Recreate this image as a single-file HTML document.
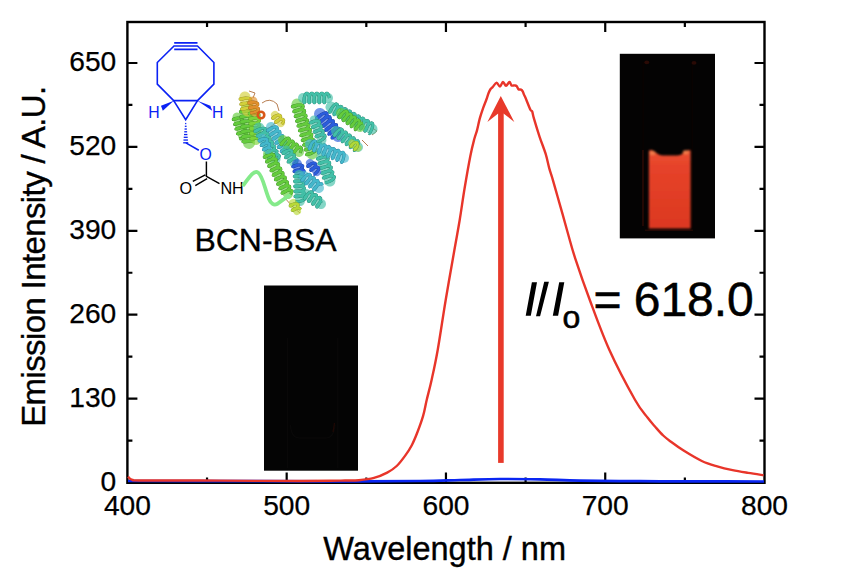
<!DOCTYPE html>
<html><head><meta charset="utf-8"><style>
html,body{margin:0;padding:0;background:#fff;width:842px;height:582px;overflow:hidden}
svg{position:absolute;left:0;top:0}
text{font-family:"Liberation Sans",sans-serif}
</style></head><body>
<svg width="842" height="582" viewBox="0 0 842 582">
<rect width="842" height="582" fill="#fff"/>
<rect x="264.0" y="285.5" width="94.0" height="185.2" fill="#040404"/>
<path d="M287.4 338 V468 M337.7 338 V468 M290.5 425 Q291 438 300 438 H326 Q334 438 335 425" stroke="#0a0909" stroke-width="1.1" fill="none"/><path d="M333 432 Q334 427 334.5 423" stroke="#1e0804" stroke-width="1.3" fill="none"/>
<rect x="619.8" y="53.8" width="95.2" height="184.6" fill="#040303"/>
<path d="M643.2 62 V228 M692.3 62 V228" stroke="#0a0302" stroke-width="1.3" fill="none"/>
<path d="M643 150 V226" stroke="#2a0a05" stroke-width="1.6" fill="none"/>
<ellipse cx="646.8" cy="62.4" rx="2.5" ry="1.8" fill="#2a0a05"/>
<ellipse cx="694" cy="62.9" rx="2.5" ry="1.8" fill="#2a0a05"/>
<path d="M645 230.3 H693" stroke="#1e0804" stroke-width="1.4"/>
<defs><linearGradient id="lq" x1="0" y1="0" x2="0" y2="1"><stop offset="0" stop-color="#ec5232"/><stop offset="0.2" stop-color="#e6432a"/><stop offset="1" stop-color="#dc3820"/></linearGradient></defs>
<filter id="bl" x="-0.2" y="-0.2" width="1.4" height="1.4"><feGaussianBlur stdDeviation="0.8"/></filter>
<g filter="url(#bl)">
<path d="M648.9 228.4 V151 Q650 149.3 652.5 150.3 C656 152 658 155.5 663 155.5 H677 C682 155.5 684 152 687.5 150.5 Q690.4 149.5 690.6 151 V228.4 Z" fill="url(#lq)"/>
<ellipse cx="652.5" cy="153" rx="3" ry="2" fill="#f07a48"/><ellipse cx="685.8" cy="152.3" rx="3" ry="2" fill="#f07a48"/>
</g>
<rect x="127.40" y="22.00" width="637.10" height="460.80" fill="none" stroke="#000" stroke-width="2.4"/>
<path d="M207.04 482.50V477.50M207.04 22.00V27.00M286.68 482.50V472.50M286.68 22.00V32.00M366.31 482.50V477.50M366.31 22.00V27.00M445.95 482.50V472.50M445.95 22.00V32.00M525.59 482.50V477.50M525.59 22.00V27.00M605.23 482.50V472.50M605.23 22.00V32.00M684.86 482.50V477.50M684.86 22.00V27.00M127.40 440.55H132.40M764.50 440.55H759.50M127.40 398.60H137.40M764.50 398.60H754.50M127.40 356.65H132.40M764.50 356.65H759.50M127.40 314.70H137.40M764.50 314.70H754.50M127.40 272.75H132.40M764.50 272.75H759.50M127.40 230.79H137.40M764.50 230.79H754.50M127.40 188.84H132.40M764.50 188.84H759.50M127.40 146.89H137.40M764.50 146.89H754.50M127.40 104.94H132.40M764.50 104.94H759.50M127.40 62.99H137.40M764.50 62.99H754.50" stroke="#000" stroke-width="2.2" fill="none"/>
<path d="M128.00 481.00 C148.33 481.02 214.67 481.05 250.00 481.10 C285.33 481.15 311.67 481.32 340.00 481.30 C368.33 481.28 400.00 481.22 420.00 481.00 C440.00 480.78 446.67 480.33 460.00 480.00 C473.33 479.67 486.67 479.10 500.00 479.00 C513.33 478.90 526.67 479.13 540.00 479.40 C553.33 479.67 563.33 480.30 580.00 480.60 C596.67 480.90 620.00 481.07 640.00 481.20 C660.00 481.33 679.33 481.35 700.00 481.40 C720.67 481.45 753.33 481.48 764.00 481.50" fill="none" stroke="#0a26f2" stroke-width="2.7"/>
<path d="M128.00 476.60 C128.33 476.97 129.17 478.23 130.00 478.80 C130.83 479.37 131.33 479.72 133.00 480.00 C134.67 480.28 128.83 480.42 140.00 480.50 C151.17 480.58 180.00 480.43 200.00 480.50 C220.00 480.57 243.33 480.82 260.00 480.90 C276.67 480.98 288.33 481.02 300.00 481.00 C311.67 480.98 322.50 480.88 330.00 480.80 C337.50 480.72 340.18 480.60 345.00 480.50 C349.82 480.40 354.07 480.63 358.90 480.20 C363.73 479.77 369.28 479.17 374.00 477.90 C378.72 476.63 383.42 474.58 387.20 472.60 C390.98 470.62 393.70 468.83 396.70 466.00 C399.70 463.17 402.68 459.07 405.20 455.60 C407.72 452.13 409.75 449.13 411.80 445.20 C413.85 441.27 415.62 436.88 417.50 432.00 C419.38 427.12 421.57 421.23 423.10 415.90 C424.63 410.57 425.28 405.98 426.70 400.00 C428.12 394.02 429.77 388.33 431.60 380.00 C433.43 371.67 435.35 363.33 437.70 350.00 C440.05 336.67 442.92 316.67 445.70 300.00 C448.48 283.33 452.07 263.33 454.40 250.00 C456.73 236.67 458.00 230.28 459.70 220.00 C461.40 209.72 462.83 198.93 464.60 188.30 C466.37 177.67 468.68 164.42 470.30 156.20 C471.92 147.98 473.18 143.30 474.30 139.00 C475.42 134.70 476.08 133.83 477.00 130.40 C477.92 126.97 478.78 122.12 479.80 118.40 C480.82 114.68 482.00 111.25 483.10 108.10 C484.20 104.95 485.50 101.98 486.40 99.50 C487.30 97.02 487.85 94.87 488.50 93.20 C489.15 91.53 489.62 90.52 490.30 89.50 C490.98 88.48 491.55 88.23 492.60 87.10 C493.65 85.97 495.38 82.78 496.60 82.70 C497.82 82.62 498.83 86.72 499.90 86.60 C500.97 86.48 501.98 82.13 503.00 82.00 C504.02 81.87 504.92 85.80 506.00 85.80 C507.08 85.80 508.58 82.07 509.50 82.00 C510.42 81.93 510.65 84.83 511.50 85.40 C512.35 85.97 513.73 85.28 514.60 85.40 C515.47 85.52 516.07 85.47 516.70 86.10 C517.33 86.73 517.68 88.62 518.40 89.20 C519.12 89.78 520.28 89.25 521.00 89.60 C521.72 89.95 522.22 90.50 522.70 91.30 C523.18 92.10 523.32 93.03 523.90 94.40 C524.48 95.77 525.12 96.93 526.20 99.50 C527.28 102.07 529.40 107.80 530.40 109.80 C531.40 111.80 531.62 110.07 532.20 111.50 C532.78 112.93 532.67 114.18 533.90 118.40 C535.13 122.62 537.65 130.92 539.60 136.80 C541.55 142.68 544.00 148.48 545.60 153.70 C547.20 158.92 547.98 163.70 549.20 168.10 C550.42 172.50 551.48 175.28 552.90 180.10 C554.32 184.92 556.10 191.38 557.70 197.00 C559.30 202.62 560.70 207.38 562.50 213.80 C564.30 220.22 566.38 228.08 568.50 235.50 C570.62 242.92 571.65 247.55 575.20 258.30 C578.75 269.05 584.10 284.72 589.80 300.00 C595.50 315.28 601.85 333.33 609.40 350.00 C616.95 366.67 628.72 388.70 635.10 400.00 C641.48 411.30 644.32 413.30 647.70 417.80 C651.08 422.30 652.82 424.05 655.40 427.00 C657.98 429.95 660.62 433.05 663.20 435.50 C665.78 437.95 667.50 439.18 670.90 441.70 C674.30 444.22 678.45 447.38 683.60 450.60 C688.75 453.82 696.20 458.37 701.80 461.00 C707.40 463.63 712.07 464.87 717.20 466.40 C722.33 467.93 727.45 469.12 732.60 470.20 C737.75 471.28 742.95 472.07 748.10 472.90 C753.25 473.73 760.93 474.82 763.50 475.20" fill="none" stroke="#e8352a" stroke-width="2.4" stroke-linejoin="round"/>
<rect x="498.1" y="113" width="5.6" height="349.9" fill="#e8392a"/>
<path d="M500.8 96.0 L514.3 121.9 L503.5 113.6 L498.2 113.6 L487.4 121.9 Z" fill="#e8392a"/>
<g fill="none" stroke="#0b22f4" stroke-width="1.6" stroke-linejoin="miter">
<path d="M174 46 L197.5 46 L213.9 62.5 L213.9 84.1 L197.5 100.6 L173.7 100.6 L157.3 84.1 L157.3 62.5 Z"/>
<path d="M174.2 42.9 H197.5 M174.2 49.4 H197.5"/>
<path d="M173.7 100.6 L185.7 119.7 L197.5 100.6"/>
<path d="M185.9 142.9 L198.8 150.2"/>
</g>
<g fill="#0b22f4">
<path d="M173.8 100.8 L161.0 105.8 L162.8 110.8 Z"/>
<path d="M197.4 100.8 L210.4 105.8 L212.2 110.8 Z"/>
<rect x="185.10" y="122.90" width="1.20" height="1.3"/><rect x="184.82" y="125.65" width="1.75" height="1.3"/><rect x="184.55" y="128.40" width="2.30" height="1.3"/><rect x="184.27" y="131.15" width="2.85" height="1.3"/><rect x="184.00" y="133.90" width="3.40" height="1.3"/><rect x="183.72" y="136.65" width="3.95" height="1.3"/><rect x="183.45" y="139.40" width="4.50" height="1.3"/><rect x="183.17" y="142.15" width="5.05" height="1.3"/></g>
<g font-size="15.8" fill="#0b22f4">
<text x="148.3" y="117.8">H</text>
<text x="211.9" y="117.8">H</text>
<text x="199.6" y="159.7">O</text>
</g>
<g fill="none" stroke="#000" stroke-width="1.45">
<path d="M206.4 161.6 V176.4 L219.5 183.7 M205.3 174.8 L192.8 181.3 M207.1 178.6 L195.3 185.7"/>
</g>
<g font-size="16.2" fill="#000">
<text x="179.6" y="193.7">O</text>
<text x="220.4" y="193.5">NH</text>
</g>

<g><path d="M249 91 L255 93 L253 98 M262 103 Q270 97 277 104 L279 111 M259 109 Q256 125 260 136 M276 122 Q268 130 266 128 M293 207 L300 213 M372 128 L377 131 L372 135 M362 140 L368 146 M284 197 L292 206" stroke="#b07040" stroke-width="0.9" fill="none"/><path d="M237.0 117.0 L243.0 137.0" stroke="#64cc3c" stroke-opacity="0.65" stroke-width="9.0" stroke-linecap="round"/><path d="M237.4 118.3 L234.9 119.3 L233.3 119.6 L233.3 119.2 L234.9 118.5 L237.6 118.0 L240.3 118.1 L242.1 118.8 L242.3 120.2 L240.8 121.9 L238.4 123.4 L235.9 124.2 L234.6 124.4 L234.9 123.9 L236.8 123.2 L239.5 122.8 L242.2 122.9 L243.7 123.9 L243.6 125.3 L241.9 127.0 L239.3 128.4 L237.0 129.1 L235.9 129.1 L236.5 128.6 L238.7 127.9 L241.5 127.5 L244.0 127.8 L245.3 128.9 L244.8 130.4 L242.9 132.1 L240.3 133.3 L238.2 133.9 L237.4 133.8 L238.3 133.2 L240.6 132.6 L243.5 132.3 L245.8 132.8 L246.7 133.9 L246.0 135.5 L243.8 137.1 L241.3 138.3 L239.3 138.8" stroke="#3a8428" stroke-width="3.0" fill="none" stroke-linejoin="round"/><path d="M237.4 118.3 L234.9 119.3 L233.3 119.6 L233.3 119.2 L234.9 118.5 L237.6 118.0 L240.3 118.1 L242.1 118.8 L242.3 120.2 L240.8 121.9 L238.4 123.4 L235.9 124.2 L234.6 124.4 L234.9 123.9 L236.8 123.2 L239.5 122.8 L242.2 122.9 L243.7 123.9 L243.6 125.3 L241.9 127.0 L239.3 128.4 L237.0 129.1 L235.9 129.1 L236.5 128.6 L238.7 127.9 L241.5 127.5 L244.0 127.8 L245.3 128.9 L244.8 130.4 L242.9 132.1 L240.3 133.3 L238.2 133.9 L237.4 133.8 L238.3 133.2 L240.6 132.6 L243.5 132.3 L245.8 132.8 L246.7 133.9 L246.0 135.5 L243.8 137.1 L241.3 138.3 L239.3 138.8" stroke="#64cc3c" stroke-width="2.4" fill="none" stroke-linejoin="round"/><path d="M246.0 110.0 L249.0 143.0" stroke="#64cc3c" stroke-opacity="0.65" stroke-width="12.0" stroke-linecap="round"/><path d="M246.1 111.4 L242.6 111.9 L240.4 111.9 L240.4 111.6 L242.6 111.2 L246.2 111.1 L249.8 111.6 L252.0 112.6 L252.0 113.9 L249.9 115.3 L246.4 116.4 L243.0 116.9 L240.8 116.9 L240.9 116.5 L243.2 116.1 L246.8 116.1 L250.3 116.6 L252.5 117.6 L252.5 119.0 L250.2 120.4 L246.7 121.4 L243.3 121.9 L241.3 121.9 L241.4 121.5 L243.8 121.1 L247.4 121.1 L250.9 121.6 L253.0 122.6 L252.9 124.0 L250.6 125.4 L247.0 126.4 L243.6 126.9 L241.7 126.8 L241.9 126.5 L244.4 126.1 L248.0 126.1 L251.5 126.6 L253.5 127.7 L253.3 129.1 L250.9 130.4 L247.3 131.4 L244.0 131.9 L242.1 131.8 L242.5 131.4 L245.0 131.1 L248.6 131.1 L252.1 131.6 L254.0 132.7 L253.6 134.1 L251.2 135.5 L247.6 136.5 L244.3 136.9 L242.5 136.8 L243.0 136.4 L245.5 136.0 L249.2 136.0 L252.6 136.6 L254.5 137.7 L254.0 139.1 L251.5 140.5 L247.9 141.5 L244.6 141.9 L242.9 141.8 L243.5 141.3 L246.1 141.0 L249.8 141.0 L253.2 141.6" stroke="#3a8428" stroke-width="3.0" fill="none" stroke-linejoin="round"/><path d="M246.1 111.4 L242.6 111.9 L240.4 111.9 L240.4 111.6 L242.6 111.2 L246.2 111.1 L249.8 111.6 L252.0 112.6 L252.0 113.9 L249.9 115.3 L246.4 116.4 L243.0 116.9 L240.8 116.9 L240.9 116.5 L243.2 116.1 L246.8 116.1 L250.3 116.6 L252.5 117.6 L252.5 119.0 L250.2 120.4 L246.7 121.4 L243.3 121.9 L241.3 121.9 L241.4 121.5 L243.8 121.1 L247.4 121.1 L250.9 121.6 L253.0 122.6 L252.9 124.0 L250.6 125.4 L247.0 126.4 L243.6 126.9 L241.7 126.8 L241.9 126.5 L244.4 126.1 L248.0 126.1 L251.5 126.6 L253.5 127.7 L253.3 129.1 L250.9 130.4 L247.3 131.4 L244.0 131.9 L242.1 131.8 L242.5 131.4 L245.0 131.1 L248.6 131.1 L252.1 131.6 L254.0 132.7 L253.6 134.1 L251.2 135.5 L247.6 136.5 L244.3 136.9 L242.5 136.8 L243.0 136.4 L245.5 136.0 L249.2 136.0 L252.6 136.6 L254.5 137.7 L254.0 139.1 L251.5 140.5 L247.9 141.5 L244.6 141.9 L242.9 141.8 L243.5 141.3 L246.1 141.0 L249.8 141.0 L253.2 141.6" stroke="#64cc3c" stroke-width="2.4" fill="none" stroke-linejoin="round"/><path d="M245.0 97.0 L247.5 111.0" stroke="#d2d03a" stroke-opacity="0.65" stroke-width="11.0" stroke-linecap="round"/><path d="M245.2 98.4 L242.1 99.2 L240.1 99.3 L240.1 98.9 L242.1 98.4 L245.5 98.1 L248.8 98.3 L250.8 99.2 L250.8 100.6 L248.8 102.2 L245.6 103.5 L242.5 104.2 L240.8 104.2 L241.2 103.8 L243.5 103.2 L246.9 103.0 L250.1 103.3 L251.8 104.3 L251.5 105.8 L249.2 107.3 L246.0 108.5 L243.0 109.1 L241.6 109.1 L242.3 108.6 L244.9 108.1 L248.3 107.9 L251.4 108.4 L252.8 109.5 L252.1 111.0" stroke="#90861c" stroke-width="3.0" fill="none" stroke-linejoin="round"/><path d="M245.2 98.4 L242.1 99.2 L240.1 99.3 L240.1 98.9 L242.1 98.4 L245.5 98.1 L248.8 98.3 L250.8 99.2 L250.8 100.6 L248.8 102.2 L245.6 103.5 L242.5 104.2 L240.8 104.2 L241.2 103.8 L243.5 103.2 L246.9 103.0 L250.1 103.3 L251.8 104.3 L251.5 105.8 L249.2 107.3 L246.0 108.5 L243.0 109.1 L241.6 109.1 L242.3 108.6 L244.9 108.1 L248.3 107.9 L251.4 108.4 L252.8 109.5 L252.1 111.0" stroke="#d2d03a" stroke-width="2.4" fill="none" stroke-linejoin="round"/><path d="M254.0 112.0 L256.0 140.0" stroke="#7cd438" stroke-opacity="0.65" stroke-width="10.0" stroke-linecap="round"/><path d="M254.1 113.4 L251.2 113.8 L249.4 113.8 L249.3 113.4 L251.2 113.1 L254.1 113.1 L257.1 113.7 L259.0 114.7 L259.0 116.1 L257.3 117.4 L254.4 118.4 L251.5 118.8 L249.7 118.7 L249.7 118.4 L251.6 118.1 L254.6 118.1 L257.5 118.7 L259.4 119.8 L259.4 121.1 L257.6 122.5 L254.7 123.4 L251.8 123.8 L250.0 123.7 L250.1 123.4 L252.0 123.0 L255.0 123.1 L257.9 123.7 L259.7 124.8 L259.7 126.2 L257.9 127.5 L254.9 128.4 L252.1 128.8 L250.4 128.7 L250.5 128.3 L252.4 128.0 L255.4 128.1 L258.4 128.7 L260.1 129.8 L260.0 131.2 L258.2 132.5 L255.2 133.4 L252.4 133.8 L250.7 133.7 L250.9 133.3 L252.8 133.0 L255.9 133.1 L258.8 133.7 L260.5 134.8 L260.4 136.2 L258.4 137.5 L255.5 138.4 L252.6 138.8 L251.0 138.7 L251.3 138.3 L253.3 138.0 L256.3 138.1 L259.2 138.7" stroke="#4e8e28" stroke-width="3.0" fill="none" stroke-linejoin="round"/><path d="M254.1 113.4 L251.2 113.8 L249.4 113.8 L249.3 113.4 L251.2 113.1 L254.1 113.1 L257.1 113.7 L259.0 114.7 L259.0 116.1 L257.3 117.4 L254.4 118.4 L251.5 118.8 L249.7 118.7 L249.7 118.4 L251.6 118.1 L254.6 118.1 L257.5 118.7 L259.4 119.8 L259.4 121.1 L257.6 122.5 L254.7 123.4 L251.8 123.8 L250.0 123.7 L250.1 123.4 L252.0 123.0 L255.0 123.1 L257.9 123.7 L259.7 124.8 L259.7 126.2 L257.9 127.5 L254.9 128.4 L252.1 128.8 L250.4 128.7 L250.5 128.3 L252.4 128.0 L255.4 128.1 L258.4 128.7 L260.1 129.8 L260.0 131.2 L258.2 132.5 L255.2 133.4 L252.4 133.8 L250.7 133.7 L250.9 133.3 L252.8 133.0 L255.9 133.1 L258.8 133.7 L260.5 134.8 L260.4 136.2 L258.4 137.5 L255.5 138.4 L252.6 138.8 L251.0 138.7 L251.3 138.3 L253.3 138.0 L256.3 138.1 L259.2 138.7" stroke="#7cd438" stroke-width="2.4" fill="none" stroke-linejoin="round"/><path d="M253.0 101.0 L254.5 112.0" stroke="#e0902c" stroke-opacity="0.65" stroke-width="9.0" stroke-linecap="round"/><path d="M253.2 102.4 L250.6 103.0 L248.9 103.0 L248.9 102.6 L250.6 102.2 L253.3 102.1 L256.0 102.5 L257.7 103.5 L257.8 104.9 L256.2 106.3 L253.6 107.4 L251.0 108.0 L249.5 107.9 L249.7 107.5 L251.5 107.1 L254.2 107.1 L256.9 107.6 L258.5 108.6 L258.4 110.0 L256.7 111.4 L254.0 112.4 L251.5 112.9 L250.2 112.9" stroke="#9a5c16" stroke-width="3.0" fill="none" stroke-linejoin="round"/><path d="M253.2 102.4 L250.6 103.0 L248.9 103.0 L248.9 102.6 L250.6 102.2 L253.3 102.1 L256.0 102.5 L257.7 103.5 L257.8 104.9 L256.2 106.3 L253.6 107.4 L251.0 108.0 L249.5 107.9 L249.7 107.5 L251.5 107.1 L254.2 107.1 L256.9 107.6 L258.5 108.6 L258.4 110.0 L256.7 111.4 L254.0 112.4 L251.5 112.9 L250.2 112.9" stroke="#e0902c" stroke-width="2.4" fill="none" stroke-linejoin="round"/><path d="M275.0 115.0 L281.0 123.0" stroke="#d2d03a" stroke-opacity="0.65" stroke-width="8.0" stroke-linecap="round"/><path d="M275.8 116.1 L274.1 117.7 L272.8 118.4 L272.6 118.1 L273.6 117.1 L275.7 115.9 L278.0 115.1 L279.9 115.2 L280.7 116.3 L280.3 118.1 L278.8 120.1 L277.1 121.7 L275.8 122.4 L275.6 122.1 L276.6 121.1 L278.7 119.9 L281.0 119.1 L282.9 119.2 L283.7 120.3 L283.3 122.1 L281.8 124.1" stroke="#90861c" stroke-width="3.0" fill="none" stroke-linejoin="round"/><path d="M275.8 116.1 L274.1 117.7 L272.8 118.4 L272.6 118.1 L273.6 117.1 L275.7 115.9 L278.0 115.1 L279.9 115.2 L280.7 116.3 L280.3 118.1 L278.8 120.1 L277.1 121.7 L275.8 122.4 L275.6 122.1 L276.6 121.1 L278.7 119.9 L281.0 119.1 L282.9 119.2 L283.7 120.3 L283.3 122.1 L281.8 124.1" stroke="#d2d03a" stroke-width="2.4" fill="none" stroke-linejoin="round"/><path d="M259.0 128.0 L275.0 159.0" stroke="#42c0a8" stroke-opacity="0.65" stroke-width="11.0" stroke-linecap="round"/><path d="M259.6 129.2 L256.8 130.9 L255.0 131.7 L254.9 131.3 L256.6 130.2 L259.7 128.9 L262.9 128.2 L265.2 128.4 L265.6 129.7 L264.2 131.7 L261.6 133.9 L258.9 135.5 L257.2 136.1 L257.3 135.7 L259.2 134.5 L262.4 133.2 L265.5 132.6 L267.6 132.9 L267.9 134.3 L266.3 136.4 L263.6 138.6 L260.9 140.1 L259.4 140.6 L259.7 140.0 L261.8 138.8 L265.0 137.6 L268.1 137.0 L270.0 137.5 L270.1 139.0 L268.3 141.1 L265.6 143.2 L263.0 144.6 L261.6 145.0 L262.1 144.3 L264.4 143.1 L267.7 141.9 L270.7 141.4 L272.4 142.0 L272.2 143.6 L270.3 145.8 L267.5 147.9 L265.0 149.2 L263.9 149.4 L264.6 148.7 L267.1 147.4 L270.3 146.3 L273.3 145.9 L274.8 146.6 L274.4 148.3 L272.3 150.5 L269.5 152.5 L267.1 153.7 L266.1 153.8 L267.1 153.0 L269.7 151.7 L273.0 150.6 L275.8 150.4 L277.1 151.2 L276.5 153.0 L274.3 155.2 L271.5 157.1 L269.2 158.2 L268.4 158.2 L269.6 157.3 L272.3 156.0 L275.6 155.0 L278.3 154.8 L279.5 155.8 L278.7 157.7 L276.3 159.9" stroke="#28806e" stroke-width="3.0" fill="none" stroke-linejoin="round"/><path d="M259.6 129.2 L256.8 130.9 L255.0 131.7 L254.9 131.3 L256.6 130.2 L259.7 128.9 L262.9 128.2 L265.2 128.4 L265.6 129.7 L264.2 131.7 L261.6 133.9 L258.9 135.5 L257.2 136.1 L257.3 135.7 L259.2 134.5 L262.4 133.2 L265.5 132.6 L267.6 132.9 L267.9 134.3 L266.3 136.4 L263.6 138.6 L260.9 140.1 L259.4 140.6 L259.7 140.0 L261.8 138.8 L265.0 137.6 L268.1 137.0 L270.0 137.5 L270.1 139.0 L268.3 141.1 L265.6 143.2 L263.0 144.6 L261.6 145.0 L262.1 144.3 L264.4 143.1 L267.7 141.9 L270.7 141.4 L272.4 142.0 L272.2 143.6 L270.3 145.8 L267.5 147.9 L265.0 149.2 L263.9 149.4 L264.6 148.7 L267.1 147.4 L270.3 146.3 L273.3 145.9 L274.8 146.6 L274.4 148.3 L272.3 150.5 L269.5 152.5 L267.1 153.7 L266.1 153.8 L267.1 153.0 L269.7 151.7 L273.0 150.6 L275.8 150.4 L277.1 151.2 L276.5 153.0 L274.3 155.2 L271.5 157.1 L269.2 158.2 L268.4 158.2 L269.6 157.3 L272.3 156.0 L275.6 155.0 L278.3 154.8 L279.5 155.8 L278.7 157.7 L276.3 159.9" stroke="#42c0a8" stroke-width="2.4" fill="none" stroke-linejoin="round"/><path d="M271.0 127.0 L286.0 150.0" stroke="#44b8cc" stroke-opacity="0.65" stroke-width="10.0" stroke-linecap="round"/><path d="M271.8 128.2 L269.4 130.0 L267.8 130.8 L267.6 130.4 L269.2 129.2 L271.8 127.8 L274.8 126.9 L276.8 127.0 L277.4 128.3 L276.3 130.5 L274.1 132.7 L271.8 134.4 L270.4 135.0 L270.5 134.5 L272.3 133.2 L275.1 131.8 L277.9 131.0 L279.8 131.4 L280.0 132.8 L278.7 135.0 L276.4 137.2 L274.2 138.8 L273.0 139.2 L273.4 138.5 L275.4 137.1 L278.3 135.8 L281.0 135.2 L282.7 135.7 L282.6 137.4 L281.1 139.6 L278.7 141.8 L276.6 143.1 L275.7 143.3 L276.4 142.5 L278.6 141.1 L281.5 139.8 L284.1 139.4 L285.5 140.1 L285.2 141.9 L283.5 144.2 L281.1 146.2 L279.1 147.4 L278.4 147.4 L279.4 146.4 L281.8 145.0 L284.8 143.9 L287.2 143.6 L288.3 144.6 L287.7 146.5 L285.8 148.8 L283.4 150.7 L281.6 151.7 L281.2 151.5 L282.5 150.4 L285.0 149.0" stroke="#267a94" stroke-width="3.0" fill="none" stroke-linejoin="round"/><path d="M271.8 128.2 L269.4 130.0 L267.8 130.8 L267.6 130.4 L269.2 129.2 L271.8 127.8 L274.8 126.9 L276.8 127.0 L277.4 128.3 L276.3 130.5 L274.1 132.7 L271.8 134.4 L270.4 135.0 L270.5 134.5 L272.3 133.2 L275.1 131.8 L277.9 131.0 L279.8 131.4 L280.0 132.8 L278.7 135.0 L276.4 137.2 L274.2 138.8 L273.0 139.2 L273.4 138.5 L275.4 137.1 L278.3 135.8 L281.0 135.2 L282.7 135.7 L282.6 137.4 L281.1 139.6 L278.7 141.8 L276.6 143.1 L275.7 143.3 L276.4 142.5 L278.6 141.1 L281.5 139.8 L284.1 139.4 L285.5 140.1 L285.2 141.9 L283.5 144.2 L281.1 146.2 L279.1 147.4 L278.4 147.4 L279.4 146.4 L281.8 145.0 L284.8 143.9 L287.2 143.6 L288.3 144.6 L287.7 146.5 L285.8 148.8 L283.4 150.7 L281.6 151.7 L281.2 151.5 L282.5 150.4 L285.0 149.0" stroke="#44b8cc" stroke-width="2.4" fill="none" stroke-linejoin="round"/><path d="M283.0 140.0 L299.0 152.0" stroke="#64cc3c" stroke-opacity="0.65" stroke-width="10.0" stroke-linecap="round"/><path d="M284.1 140.8 L282.5 143.3 L281.3 144.7 L281.0 144.4 L281.9 142.9 L283.9 140.7 L286.3 138.8 L288.3 138.0 L289.4 138.9 L289.3 141.0 L288.1 143.8 L286.5 146.3 L285.3 147.7 L285.0 147.4 L285.9 145.9 L287.9 143.7 L290.3 141.8 L292.3 141.0 L293.4 141.9 L293.3 144.0 L292.1 146.8 L290.5 149.3 L289.3 150.7 L289.0 150.4 L289.9 148.9 L291.9 146.7 L294.3 144.8 L296.3 144.0 L297.4 144.9 L297.3 147.0 L296.1 149.8 L294.5 152.3 L293.3 153.7 L293.0 153.4 L293.9 151.9 L295.9 149.7 L298.3 147.8 L300.3 147.0 L301.4 147.9 L301.3 150.0 L300.1 152.8" stroke="#3a8428" stroke-width="3.0" fill="none" stroke-linejoin="round"/><path d="M284.1 140.8 L282.5 143.3 L281.3 144.7 L281.0 144.4 L281.9 142.9 L283.9 140.7 L286.3 138.8 L288.3 138.0 L289.4 138.9 L289.3 141.0 L288.1 143.8 L286.5 146.3 L285.3 147.7 L285.0 147.4 L285.9 145.9 L287.9 143.7 L290.3 141.8 L292.3 141.0 L293.4 141.9 L293.3 144.0 L292.1 146.8 L290.5 149.3 L289.3 150.7 L289.0 150.4 L289.9 148.9 L291.9 146.7 L294.3 144.8 L296.3 144.0 L297.4 144.9 L297.3 147.0 L296.1 149.8 L294.5 152.3 L293.3 153.7 L293.0 153.4 L293.9 151.9 L295.9 149.7 L298.3 147.8 L300.3 147.0 L301.4 147.9 L301.3 150.0 L300.1 152.8" stroke="#64cc3c" stroke-width="2.4" fill="none" stroke-linejoin="round"/><path d="M268.0 154.0 L288.0 194.0" stroke="#64cc3c" stroke-opacity="0.65" stroke-width="10.0" stroke-linecap="round"/><path d="M268.6 155.3 L266.1 156.8 L264.4 157.4 L264.2 157.1 L265.8 156.1 L268.6 155.0 L271.5 154.3 L273.7 154.6 L274.2 155.9 L273.1 157.8 L270.7 159.8 L268.2 161.3 L266.6 161.9 L266.5 161.5 L268.2 160.5 L271.0 159.4 L273.9 158.8 L276.0 159.2 L276.4 160.5 L275.2 162.4 L272.8 164.4 L270.3 165.8 L268.8 166.4 L268.8 165.9 L270.5 164.9 L273.3 163.8 L276.3 163.3 L278.3 163.7 L278.7 165.0 L277.3 167.0 L274.9 168.9 L272.5 170.4 L271.0 170.8 L271.1 170.4 L272.9 169.3 L275.7 168.2 L278.6 167.7 L280.6 168.2 L280.9 169.6 L279.5 171.5 L277.1 173.5 L274.6 174.9 L273.2 175.3 L273.4 174.8 L275.2 173.7 L278.1 172.7 L281.0 172.2 L282.9 172.7 L283.1 174.1 L281.6 176.1 L279.2 178.1 L276.7 179.4 L275.4 179.8 L275.7 179.2 L277.6 178.1 L280.5 177.1 L283.4 176.7 L285.2 177.2 L285.3 178.7 L283.7 180.7 L281.3 182.6 L278.9 183.9 L277.6 184.2 L278.0 183.7 L280.0 182.6 L282.9 181.5 L285.7 181.2 L287.4 181.8 L287.5 183.3 L285.9 185.3 L283.4 187.2 L281.0 188.4 L279.8 188.7 L280.3 188.1 L282.3 187.0 L285.3 186.0 L288.1 185.6 L289.7 186.3 L289.7 187.8 L288.0 189.8 L285.5 191.7 L283.1 192.9 L282.0 193.2 L282.6 192.5 L284.7 191.4 L287.7 190.4 L290.4 190.1 L292.0 190.8 L291.8 192.4 L290.1 194.4" stroke="#3a8428" stroke-width="3.0" fill="none" stroke-linejoin="round"/><path d="M268.6 155.3 L266.1 156.8 L264.4 157.4 L264.2 157.1 L265.8 156.1 L268.6 155.0 L271.5 154.3 L273.7 154.6 L274.2 155.9 L273.1 157.8 L270.7 159.8 L268.2 161.3 L266.6 161.9 L266.5 161.5 L268.2 160.5 L271.0 159.4 L273.9 158.8 L276.0 159.2 L276.4 160.5 L275.2 162.4 L272.8 164.4 L270.3 165.8 L268.8 166.4 L268.8 165.9 L270.5 164.9 L273.3 163.8 L276.3 163.3 L278.3 163.7 L278.7 165.0 L277.3 167.0 L274.9 168.9 L272.5 170.4 L271.0 170.8 L271.1 170.4 L272.9 169.3 L275.7 168.2 L278.6 167.7 L280.6 168.2 L280.9 169.6 L279.5 171.5 L277.1 173.5 L274.6 174.9 L273.2 175.3 L273.4 174.8 L275.2 173.7 L278.1 172.7 L281.0 172.2 L282.9 172.7 L283.1 174.1 L281.6 176.1 L279.2 178.1 L276.7 179.4 L275.4 179.8 L275.7 179.2 L277.6 178.1 L280.5 177.1 L283.4 176.7 L285.2 177.2 L285.3 178.7 L283.7 180.7 L281.3 182.6 L278.9 183.9 L277.6 184.2 L278.0 183.7 L280.0 182.6 L282.9 181.5 L285.7 181.2 L287.4 181.8 L287.5 183.3 L285.9 185.3 L283.4 187.2 L281.0 188.4 L279.8 188.7 L280.3 188.1 L282.3 187.0 L285.3 186.0 L288.1 185.6 L289.7 186.3 L289.7 187.8 L288.0 189.8 L285.5 191.7 L283.1 192.9 L282.0 193.2 L282.6 192.5 L284.7 191.4 L287.7 190.4 L290.4 190.1 L292.0 190.8 L291.8 192.4 L290.1 194.4" stroke="#64cc3c" stroke-width="2.4" fill="none" stroke-linejoin="round"/><path d="M286.0 150.0 L294.0 163.0" stroke="#42c0a8" stroke-opacity="0.65" stroke-width="9.0" stroke-linecap="round"/><path d="M286.7 151.2 L284.6 152.8 L283.1 153.5 L282.9 153.1 L284.3 152.0 L286.8 150.8 L289.5 150.2 L291.4 150.5 L291.9 151.8 L291.0 153.7 L289.0 155.8 L286.9 157.2 L285.6 157.7 L285.7 157.2 L287.3 156.1 L289.9 154.9 L292.5 154.4 L294.2 154.9 L294.5 156.3 L293.3 158.4 L291.2 160.3 L289.2 161.7 L288.1 162.0 L288.5 161.3 L290.4 160.1 L293.0 159.0 L295.5 158.7 L297.0 159.3 L297.0 160.9 L295.6 163.0 L293.4 164.9" stroke="#28806e" stroke-width="3.0" fill="none" stroke-linejoin="round"/><path d="M286.7 151.2 L284.6 152.8 L283.1 153.5 L282.9 153.1 L284.3 152.0 L286.8 150.8 L289.5 150.2 L291.4 150.5 L291.9 151.8 L291.0 153.7 L289.0 155.8 L286.9 157.2 L285.6 157.7 L285.7 157.2 L287.3 156.1 L289.9 154.9 L292.5 154.4 L294.2 154.9 L294.5 156.3 L293.3 158.4 L291.2 160.3 L289.2 161.7 L288.1 162.0 L288.5 161.3 L290.4 160.1 L293.0 159.0 L295.5 158.7 L297.0 159.3 L297.0 160.9 L295.6 163.0 L293.4 164.9" stroke="#42c0a8" stroke-width="2.4" fill="none" stroke-linejoin="round"/><path d="M262.0 138.0 L268.0 150.0" stroke="#44b8cc" stroke-opacity="0.65" stroke-width="8.0" stroke-linecap="round"/><path d="M262.6 139.3 L260.6 140.5 L259.2 141.0 L259.1 140.6 L260.5 139.7 L262.9 138.9 L265.4 138.6 L267.0 139.3 L267.3 140.7 L266.2 142.5 L264.2 144.2 L262.3 145.2 L261.2 145.4 L261.7 144.8 L263.4 143.9 L265.9 143.2 L268.2 143.2 L269.5 144.1 L269.3 145.7 L267.9 147.5 L265.8 149.1 L264.1 149.9 L263.4 149.8 L264.3 149.0 L266.4 148.1 L268.9 147.6 L271.0 147.9" stroke="#267a94" stroke-width="3.0" fill="none" stroke-linejoin="round"/><path d="M262.6 139.3 L260.6 140.5 L259.2 141.0 L259.1 140.6 L260.5 139.7 L262.9 138.9 L265.4 138.6 L267.0 139.3 L267.3 140.7 L266.2 142.5 L264.2 144.2 L262.3 145.2 L261.2 145.4 L261.7 144.8 L263.4 143.9 L265.9 143.2 L268.2 143.2 L269.5 144.1 L269.3 145.7 L267.9 147.5 L265.8 149.1 L264.1 149.9 L263.4 149.8 L264.3 149.0 L266.4 148.1 L268.9 147.6 L271.0 147.9" stroke="#44b8cc" stroke-width="2.4" fill="none" stroke-linejoin="round"/><path d="M297.0 164.0 L300.0 174.0" stroke="#2a5cdc" stroke-opacity="0.65" stroke-width="10.0" stroke-linecap="round"/><path d="M297.4 165.3 L294.5 166.4 L292.8 166.7 L292.9 166.3 L294.9 165.5 L298.0 165.0 L301.0 165.0 L302.8 165.9 L302.5 167.4 L300.5 169.2 L297.6 170.7 L295.0 171.5 L294.0 171.4 L295.0 170.8 L297.6 170.0 L300.8 169.7 L303.4 170.1 L304.3 171.3 L303.3 173.0 L300.7 174.7 L297.8 175.9" stroke="#1a3a94" stroke-width="3.0" fill="none" stroke-linejoin="round"/><path d="M297.4 165.3 L294.5 166.4 L292.8 166.7 L292.9 166.3 L294.9 165.5 L298.0 165.0 L301.0 165.0 L302.8 165.9 L302.5 167.4 L300.5 169.2 L297.6 170.7 L295.0 171.5 L294.0 171.4 L295.0 170.8 L297.6 170.0 L300.8 169.7 L303.4 170.1 L304.3 171.3 L303.3 173.0 L300.7 174.7 L297.8 175.9" stroke="#2a5cdc" stroke-width="2.4" fill="none" stroke-linejoin="round"/><path d="M299.0 175.0 L300.0 201.0" stroke="#42c0a8" stroke-opacity="0.65" stroke-width="10.0" stroke-linecap="round"/><path d="M299.1 176.4 L296.1 176.7 L294.3 176.6 L294.3 176.2 L296.1 176.0 L299.1 176.1 L302.0 176.8 L303.9 177.9 L303.9 179.3 L302.1 180.5 L299.2 181.4 L296.3 181.7 L294.5 181.6 L294.5 181.2 L296.3 181.0 L299.3 181.1 L302.2 181.8 L304.1 182.9 L304.1 184.3 L302.3 185.5 L299.4 186.4 L296.5 186.7 L294.7 186.6 L294.7 186.2 L296.5 186.0 L299.5 186.1 L302.4 186.8 L304.3 187.9 L304.3 189.3 L302.5 190.5 L299.6 191.4 L296.6 191.7 L294.9 191.6 L294.9 191.2 L296.7 191.0 L299.7 191.1 L302.7 191.8 L304.5 192.9 L304.5 194.3 L302.7 195.5 L299.7 196.4 L296.8 196.7 L295.0 196.6 L295.1 196.2 L296.9 196.0 L299.9 196.1 L302.9 196.8 L304.7 197.9 L304.7 199.3 L302.8 200.5 L299.9 201.4 L297.0 201.7 L295.2 201.6" stroke="#28806e" stroke-width="3.0" fill="none" stroke-linejoin="round"/><path d="M299.1 176.4 L296.1 176.7 L294.3 176.6 L294.3 176.2 L296.1 176.0 L299.1 176.1 L302.0 176.8 L303.9 177.9 L303.9 179.3 L302.1 180.5 L299.2 181.4 L296.3 181.7 L294.5 181.6 L294.5 181.2 L296.3 181.0 L299.3 181.1 L302.2 181.8 L304.1 182.9 L304.1 184.3 L302.3 185.5 L299.4 186.4 L296.5 186.7 L294.7 186.6 L294.7 186.2 L296.5 186.0 L299.5 186.1 L302.4 186.8 L304.3 187.9 L304.3 189.3 L302.5 190.5 L299.6 191.4 L296.6 191.7 L294.9 191.6 L294.9 191.2 L296.7 191.0 L299.7 191.1 L302.7 191.8 L304.5 192.9 L304.5 194.3 L302.7 195.5 L299.7 196.4 L296.8 196.7 L295.0 196.6 L295.1 196.2 L296.9 196.0 L299.9 196.1 L302.9 196.8 L304.7 197.9 L304.7 199.3 L302.8 200.5 L299.9 201.4 L297.0 201.7 L295.2 201.6" stroke="#42c0a8" stroke-width="2.4" fill="none" stroke-linejoin="round"/><path d="M293.0 203.0 L297.0 211.0" stroke="#b8d838" stroke-opacity="0.65" stroke-width="8.0" stroke-linecap="round"/><path d="M293.6 204.3 L291.5 205.6 L290.2 206.0 L290.2 205.5 L291.7 204.6 L294.1 203.8 L296.6 203.7 L298.2 204.4 L298.2 205.9 L296.9 207.8 L294.8 209.5 L292.9 210.4 L292.2 210.3 L293.0 209.6 L295.1 208.7 L297.7 208.1 L299.8 208.4 L300.6 209.6" stroke="#789628" stroke-width="3.0" fill="none" stroke-linejoin="round"/><path d="M293.6 204.3 L291.5 205.6 L290.2 206.0 L290.2 205.5 L291.7 204.6 L294.1 203.8 L296.6 203.7 L298.2 204.4 L298.2 205.9 L296.9 207.8 L294.8 209.5 L292.9 210.4 L292.2 210.3 L293.0 209.6 L295.1 208.7 L297.7 208.1 L299.8 208.4 L300.6 209.6" stroke="#b8d838" stroke-width="2.4" fill="none" stroke-linejoin="round"/><path d="M304.0 176.0 L319.0 188.0" stroke="#44b8cc" stroke-opacity="0.65" stroke-width="10.0" stroke-linecap="round"/><path d="M305.1 176.9 L303.4 179.3 L302.1 180.6 L301.9 180.3 L302.9 178.7 L305.0 176.6 L307.5 174.8 L309.5 174.2 L310.5 175.2 L310.2 177.5 L308.8 180.3 L307.2 182.7 L305.9 183.8 L305.8 183.4 L307.0 181.6 L309.2 179.5 L311.6 177.8 L313.6 177.4 L314.4 178.5 L313.9 180.9 L312.5 183.7 L310.9 186.0 L309.8 186.9 L309.8 186.3 L311.1 184.5 L313.3 182.4 L315.8 180.8 L317.6 180.5 L318.3 181.9 L317.7 184.3 L316.3 187.1 L314.6 189.3 L313.6 190.1 L313.8 189.3 L315.2 187.4 L317.5 185.3 L319.9 183.8 L321.7 183.7 L322.2 185.2" stroke="#267a94" stroke-width="3.0" fill="none" stroke-linejoin="round"/><path d="M305.1 176.9 L303.4 179.3 L302.1 180.6 L301.9 180.3 L302.9 178.7 L305.0 176.6 L307.5 174.8 L309.5 174.2 L310.5 175.2 L310.2 177.5 L308.8 180.3 L307.2 182.7 L305.9 183.8 L305.8 183.4 L307.0 181.6 L309.2 179.5 L311.6 177.8 L313.6 177.4 L314.4 178.5 L313.9 180.9 L312.5 183.7 L310.9 186.0 L309.8 186.9 L309.8 186.3 L311.1 184.5 L313.3 182.4 L315.8 180.8 L317.6 180.5 L318.3 181.9 L317.7 184.3 L316.3 187.1 L314.6 189.3 L313.6 190.1 L313.8 189.3 L315.2 187.4 L317.5 185.3 L319.9 183.8 L321.7 183.7 L322.2 185.2" stroke="#44b8cc" stroke-width="2.4" fill="none" stroke-linejoin="round"/><path d="M306.0 194.0 L321.0 204.0" stroke="#42c0a8" stroke-opacity="0.65" stroke-width="10.0" stroke-linecap="round"/><path d="M307.2 194.8 L305.7 197.4 L304.6 198.8 L304.3 198.5 L305.1 196.9 L306.9 194.6 L309.2 192.6 L311.2 191.7 L312.3 192.5 L312.3 194.7 L311.3 197.6 L309.9 200.2 L308.7 201.5 L308.4 201.3 L309.3 199.7 L311.1 197.3 L313.4 195.3 L315.4 194.5 L316.5 195.3 L316.5 197.5 L315.4 200.4 L314.0 203.0 L312.8 204.3 L312.6 204.1 L313.5 202.4 L315.3 200.1 L317.6 198.1 L319.6 197.3 L320.7 198.1 L320.6 200.3 L319.6 203.2 L318.1 205.8 L317.0 207.1 L316.7 206.8 L317.6 205.1 L319.5 202.8 L321.8 200.8" stroke="#28806e" stroke-width="3.0" fill="none" stroke-linejoin="round"/><path d="M307.2 194.8 L305.7 197.4 L304.6 198.8 L304.3 198.5 L305.1 196.9 L306.9 194.6 L309.2 192.6 L311.2 191.7 L312.3 192.5 L312.3 194.7 L311.3 197.6 L309.9 200.2 L308.7 201.5 L308.4 201.3 L309.3 199.7 L311.1 197.3 L313.4 195.3 L315.4 194.5 L316.5 195.3 L316.5 197.5 L315.4 200.4 L314.0 203.0 L312.8 204.3 L312.6 204.1 L313.5 202.4 L315.3 200.1 L317.6 198.1 L319.6 197.3 L320.7 198.1 L320.6 200.3 L319.6 203.2 L318.1 205.8 L317.0 207.1 L316.7 206.8 L317.6 205.1 L319.5 202.8 L321.8 200.8" stroke="#42c0a8" stroke-width="2.4" fill="none" stroke-linejoin="round"/><path d="M322.0 156.0 L330.0 181.0" stroke="#42c0a8" stroke-opacity="0.65" stroke-width="11.0" stroke-linecap="round"/><path d="M322.4 157.3 L319.4 158.5 L317.4 159.0 L317.4 158.6 L319.3 157.8 L322.5 157.0 L325.8 156.8 L328.0 157.4 L328.3 158.8 L326.6 160.5 L323.6 162.2 L320.7 163.4 L318.9 163.7 L319.0 163.3 L321.1 162.5 L324.4 161.7 L327.6 161.6 L329.6 162.3 L329.7 163.7 L327.9 165.5 L324.9 167.1 L322.0 168.2 L320.3 168.5 L320.6 168.0 L322.9 167.1 L326.2 166.4 L329.4 166.4 L331.3 167.1 L331.1 168.6 L329.1 170.4 L326.1 172.0 L323.3 173.0 L321.8 173.2 L322.3 172.7 L324.7 171.8 L328.1 171.2 L331.2 171.2 L332.9 172.0 L332.6 173.5 L330.4 175.3 L327.3 176.9 L324.6 177.9 L323.3 177.9 L324.0 177.4 L326.5 176.5 L329.9 175.9 L332.9 176.0 L334.5 176.9 L333.9 178.5 L331.7 180.3 L328.5 181.8 L325.9 182.7 L324.8 182.7" stroke="#28806e" stroke-width="3.0" fill="none" stroke-linejoin="round"/><path d="M322.4 157.3 L319.4 158.5 L317.4 159.0 L317.4 158.6 L319.3 157.8 L322.5 157.0 L325.8 156.8 L328.0 157.4 L328.3 158.8 L326.6 160.5 L323.6 162.2 L320.7 163.4 L318.9 163.7 L319.0 163.3 L321.1 162.5 L324.4 161.7 L327.6 161.6 L329.6 162.3 L329.7 163.7 L327.9 165.5 L324.9 167.1 L322.0 168.2 L320.3 168.5 L320.6 168.0 L322.9 167.1 L326.2 166.4 L329.4 166.4 L331.3 167.1 L331.1 168.6 L329.1 170.4 L326.1 172.0 L323.3 173.0 L321.8 173.2 L322.3 172.7 L324.7 171.8 L328.1 171.2 L331.2 171.2 L332.9 172.0 L332.6 173.5 L330.4 175.3 L327.3 176.9 L324.6 177.9 L323.3 177.9 L324.0 177.4 L326.5 176.5 L329.9 175.9 L332.9 176.0 L334.5 176.9 L333.9 178.5 L331.7 180.3 L328.5 181.8 L325.9 182.7 L324.8 182.7" stroke="#42c0a8" stroke-width="2.4" fill="none" stroke-linejoin="round"/><path d="M310.0 163.0 L317.0 172.0" stroke="#2a5cdc" stroke-opacity="0.65" stroke-width="8.0" stroke-linecap="round"/><path d="M310.9 164.1 L309.1 165.8 L307.8 166.5 L307.7 166.1 L308.9 164.9 L311.1 163.7 L313.5 163.0 L315.2 163.3 L315.7 164.6 L314.9 166.7 L313.3 168.7 L311.6 170.1 L310.7 170.4 L311.1 169.7 L312.7 168.4 L315.0 167.3 L317.3 166.9 L318.6 167.6 L318.7 169.3 L317.5 171.4 L315.7 173.3 L314.2 174.3 L313.7 174.2" stroke="#1a3a94" stroke-width="3.0" fill="none" stroke-linejoin="round"/><path d="M310.9 164.1 L309.1 165.8 L307.8 166.5 L307.7 166.1 L308.9 164.9 L311.1 163.7 L313.5 163.0 L315.2 163.3 L315.7 164.6 L314.9 166.7 L313.3 168.7 L311.6 170.1 L310.7 170.4 L311.1 169.7 L312.7 168.4 L315.0 167.3 L317.3 166.9 L318.6 167.6 L318.7 169.3 L317.5 171.4 L315.7 173.3 L314.2 174.3 L313.7 174.2" stroke="#2a5cdc" stroke-width="2.4" fill="none" stroke-linejoin="round"/><path d="M297.0 104.0 L312.0 154.0" stroke="#64cc3c" stroke-opacity="0.65" stroke-width="11.0" stroke-linecap="round"/><path d="M297.4 105.3 L294.4 106.5 L292.4 106.9 L292.3 106.5 L294.2 105.7 L297.4 105.0 L300.7 104.9 L302.9 105.5 L303.3 106.8 L301.6 108.5 L298.7 110.2 L295.7 111.3 L293.8 111.7 L293.8 111.3 L295.7 110.5 L299.0 109.8 L302.3 109.7 L304.4 110.3 L304.7 111.6 L303.0 113.4 L300.0 115.0 L297.0 116.1 L295.2 116.4 L295.3 116.0 L297.3 115.3 L300.5 114.6 L303.8 114.5 L305.9 115.1 L306.1 116.5 L304.3 118.2 L301.3 119.9 L298.4 120.9 L296.6 121.2 L296.7 120.8 L298.8 120.0 L302.1 119.4 L305.3 119.3 L307.4 119.9 L307.5 121.3 L305.6 123.1 L302.7 124.7 L299.7 125.8 L298.0 126.0 L298.2 125.6 L300.4 124.8 L303.7 124.1 L306.9 124.1 L308.9 124.8 L308.9 126.2 L307.0 128.0 L304.0 129.6 L301.0 130.6 L299.4 130.8 L299.7 130.3 L301.9 129.5 L305.2 128.9 L308.4 128.9 L310.3 129.6 L310.3 131.1 L308.3 132.8 L305.3 134.4 L302.4 135.4 L300.8 135.6 L301.2 135.1 L303.5 134.3 L306.8 133.7 L310.0 133.7 L311.8 134.4 L311.7 135.9 L309.7 137.7 L306.6 139.2 L303.7 140.2 L302.2 140.4 L302.7 139.9 L305.0 139.1 L308.4 138.5 L311.5 138.5 L313.3 139.3 L313.1 140.8 L311.0 142.5 L307.9 144.1 L305.1 145.0 L303.6 145.1 L304.2 144.6 L306.6 143.8 L309.9 143.2 L313.0 143.3 L314.7 144.1 L314.4 145.6 L312.3 147.4 L309.2 148.9 L306.4 149.8 L305.1 149.9 L305.7 149.4 L308.1 148.6 L311.5 148.0 L314.6 148.1 L316.2 149.0 L315.8 150.5 L313.6 152.2 L310.5 153.8 L307.8 154.6 L306.5 154.7 L307.2 154.1 L309.7 153.3" stroke="#3a8428" stroke-width="3.0" fill="none" stroke-linejoin="round"/><path d="M297.4 105.3 L294.4 106.5 L292.4 106.9 L292.3 106.5 L294.2 105.7 L297.4 105.0 L300.7 104.9 L302.9 105.5 L303.3 106.8 L301.6 108.5 L298.7 110.2 L295.7 111.3 L293.8 111.7 L293.8 111.3 L295.7 110.5 L299.0 109.8 L302.3 109.7 L304.4 110.3 L304.7 111.6 L303.0 113.4 L300.0 115.0 L297.0 116.1 L295.2 116.4 L295.3 116.0 L297.3 115.3 L300.5 114.6 L303.8 114.5 L305.9 115.1 L306.1 116.5 L304.3 118.2 L301.3 119.9 L298.4 120.9 L296.6 121.2 L296.7 120.8 L298.8 120.0 L302.1 119.4 L305.3 119.3 L307.4 119.9 L307.5 121.3 L305.6 123.1 L302.7 124.7 L299.7 125.8 L298.0 126.0 L298.2 125.6 L300.4 124.8 L303.7 124.1 L306.9 124.1 L308.9 124.8 L308.9 126.2 L307.0 128.0 L304.0 129.6 L301.0 130.6 L299.4 130.8 L299.7 130.3 L301.9 129.5 L305.2 128.9 L308.4 128.9 L310.3 129.6 L310.3 131.1 L308.3 132.8 L305.3 134.4 L302.4 135.4 L300.8 135.6 L301.2 135.1 L303.5 134.3 L306.8 133.7 L310.0 133.7 L311.8 134.4 L311.7 135.9 L309.7 137.7 L306.6 139.2 L303.7 140.2 L302.2 140.4 L302.7 139.9 L305.0 139.1 L308.4 138.5 L311.5 138.5 L313.3 139.3 L313.1 140.8 L311.0 142.5 L307.9 144.1 L305.1 145.0 L303.6 145.1 L304.2 144.6 L306.6 143.8 L309.9 143.2 L313.0 143.3 L314.7 144.1 L314.4 145.6 L312.3 147.4 L309.2 148.9 L306.4 149.8 L305.1 149.9 L305.7 149.4 L308.1 148.6 L311.5 148.0 L314.6 148.1 L316.2 149.0 L315.8 150.5 L313.6 152.2 L310.5 153.8 L307.8 154.6 L306.5 154.7 L307.2 154.1 L309.7 153.3" stroke="#64cc3c" stroke-width="2.4" fill="none" stroke-linejoin="round"/><path d="M303.0 98.0 L328.0 98.0" stroke="#42c0a8" stroke-opacity="0.65" stroke-width="10.0" stroke-linecap="round"/><path d="M304.4 98.0 L304.6 100.9 L304.4 102.8 L304.1 102.8 L303.9 100.9 L304.1 98.0 L304.9 95.1 L306.1 93.2 L307.4 93.2 L308.6 95.1 L309.4 98.0 L309.6 100.9 L309.4 102.8 L309.1 102.8 L308.9 100.9 L309.1 98.0 L309.9 95.1 L311.1 93.2 L312.4 93.2 L313.6 95.1 L314.4 98.0 L314.6 100.9 L314.4 102.8 L314.1 102.8 L313.9 100.9 L314.1 98.0 L314.9 95.1 L316.1 93.2 L317.4 93.2 L318.6 95.1 L319.4 98.0 L319.6 100.9 L319.4 102.8 L319.1 102.8 L318.9 100.9 L319.1 98.0 L319.9 95.1 L321.1 93.2 L322.4 93.2 L323.6 95.1 L324.4 98.0 L324.6 100.9 L324.4 102.8 L324.1 102.8 L323.9 100.9 L324.1 98.0 L324.9 95.1 L326.1 93.2 L327.4 93.2 L328.6 95.1 L329.4 98.0" stroke="#28806e" stroke-width="3.0" fill="none" stroke-linejoin="round"/><path d="M304.4 98.0 L304.6 100.9 L304.4 102.8 L304.1 102.8 L303.9 100.9 L304.1 98.0 L304.9 95.1 L306.1 93.2 L307.4 93.2 L308.6 95.1 L309.4 98.0 L309.6 100.9 L309.4 102.8 L309.1 102.8 L308.9 100.9 L309.1 98.0 L309.9 95.1 L311.1 93.2 L312.4 93.2 L313.6 95.1 L314.4 98.0 L314.6 100.9 L314.4 102.8 L314.1 102.8 L313.9 100.9 L314.1 98.0 L314.9 95.1 L316.1 93.2 L317.4 93.2 L318.6 95.1 L319.4 98.0 L319.6 100.9 L319.4 102.8 L319.1 102.8 L318.9 100.9 L319.1 98.0 L319.9 95.1 L321.1 93.2 L322.4 93.2 L323.6 95.1 L324.4 98.0 L324.6 100.9 L324.4 102.8 L324.1 102.8 L323.9 100.9 L324.1 98.0 L324.9 95.1 L326.1 93.2 L327.4 93.2 L328.6 95.1 L329.4 98.0" stroke="#42c0a8" stroke-width="2.4" fill="none" stroke-linejoin="round"/><path d="M331.0 107.0 L372.0 129.0" stroke="#42c0a8" stroke-opacity="0.65" stroke-width="11.0" stroke-linecap="round"/><path d="M332.2 107.7 L330.9 110.6 L329.8 112.3 L329.5 112.1 L330.2 110.3 L332.0 107.5 L334.2 105.0 L336.2 103.8 L337.4 104.5 L337.5 106.8 L336.6 110.0 L335.3 113.0 L334.2 114.7 L333.9 114.5 L334.7 112.6 L336.4 109.9 L338.6 107.4 L340.6 106.2 L341.8 106.9 L341.9 109.2 L341.0 112.4 L339.7 115.4 L338.6 117.0 L338.3 116.8 L339.1 114.9 L340.8 112.2 L343.0 109.7 L345.0 108.6 L346.2 109.2 L346.3 111.6 L345.4 114.8 L344.1 117.8 L343.0 119.4 L342.7 119.2 L343.5 117.3 L345.2 114.5 L347.4 112.1 L349.4 110.9 L350.6 111.6 L350.7 114.0 L349.8 117.2 L348.5 120.1 L347.4 121.8 L347.1 121.5 L347.9 119.6 L349.7 116.9 L351.9 114.4 L353.8 113.3 L355.0 114.0 L355.1 116.4 L354.2 119.6 L352.9 122.5 L351.8 124.1 L351.5 123.9 L352.3 122.0 L354.1 119.2 L356.3 116.8 L358.3 115.7 L359.4 116.4 L359.5 118.7 L358.6 122.0 L357.3 124.9 L356.2 126.5 L355.9 126.3 L356.7 124.3 L358.5 121.6 L360.7 119.1 L362.7 118.0 L363.8 118.7 L363.9 121.1 L363.0 124.4 L361.7 127.3 L360.6 128.9 L360.3 128.6 L361.1 126.7 L362.9 123.9 L365.1 121.5 L367.1 120.4 L368.3 121.1 L368.3 123.5 L367.4 126.7 L366.1 129.7 L365.0 131.2 L364.7 131.0 L365.6 129.0 L367.3 126.3 L369.5 123.8 L371.5 122.7 L372.7 123.5 L372.7 125.9 L371.8 129.1 L370.5 132.0 L369.4 133.6 L369.1 133.3" stroke="#28806e" stroke-width="3.0" fill="none" stroke-linejoin="round"/><path d="M332.2 107.7 L330.9 110.6 L329.8 112.3 L329.5 112.1 L330.2 110.3 L332.0 107.5 L334.2 105.0 L336.2 103.8 L337.4 104.5 L337.5 106.8 L336.6 110.0 L335.3 113.0 L334.2 114.7 L333.9 114.5 L334.7 112.6 L336.4 109.9 L338.6 107.4 L340.6 106.2 L341.8 106.9 L341.9 109.2 L341.0 112.4 L339.7 115.4 L338.6 117.0 L338.3 116.8 L339.1 114.9 L340.8 112.2 L343.0 109.7 L345.0 108.6 L346.2 109.2 L346.3 111.6 L345.4 114.8 L344.1 117.8 L343.0 119.4 L342.7 119.2 L343.5 117.3 L345.2 114.5 L347.4 112.1 L349.4 110.9 L350.6 111.6 L350.7 114.0 L349.8 117.2 L348.5 120.1 L347.4 121.8 L347.1 121.5 L347.9 119.6 L349.7 116.9 L351.9 114.4 L353.8 113.3 L355.0 114.0 L355.1 116.4 L354.2 119.6 L352.9 122.5 L351.8 124.1 L351.5 123.9 L352.3 122.0 L354.1 119.2 L356.3 116.8 L358.3 115.7 L359.4 116.4 L359.5 118.7 L358.6 122.0 L357.3 124.9 L356.2 126.5 L355.9 126.3 L356.7 124.3 L358.5 121.6 L360.7 119.1 L362.7 118.0 L363.8 118.7 L363.9 121.1 L363.0 124.4 L361.7 127.3 L360.6 128.9 L360.3 128.6 L361.1 126.7 L362.9 123.9 L365.1 121.5 L367.1 120.4 L368.3 121.1 L368.3 123.5 L367.4 126.7 L366.1 129.7 L365.0 131.2 L364.7 131.0 L365.6 129.0 L367.3 126.3 L369.5 123.8 L371.5 122.7 L372.7 123.5 L372.7 125.9 L371.8 129.1 L370.5 132.0 L369.4 133.6 L369.1 133.3" stroke="#42c0a8" stroke-width="2.4" fill="none" stroke-linejoin="round"/><path d="M320.0 114.0 L338.0 136.0" stroke="#2a5cdc" stroke-opacity="0.65" stroke-width="12.0" stroke-linecap="round"/><path d="M320.9 115.1 L318.3 117.5 L316.5 118.7 L316.3 118.4 L318.0 116.8 L320.9 114.7 L324.2 113.1 L326.5 112.8 L327.2 114.0 L326.0 116.5 L323.7 119.4 L321.1 121.7 L319.5 122.7 L319.6 122.1 L321.5 120.4 L324.6 118.3 L327.8 116.8 L329.9 116.8 L330.3 118.2 L328.9 120.8 L326.4 123.6 L323.9 125.8 L322.5 126.5 L322.9 125.8 L325.1 123.9 L328.3 121.9 L331.4 120.6 L333.3 120.8 L333.4 122.4 L331.8 125.1 L329.2 127.9 L326.8 129.9 L325.6 130.4 L326.3 129.4 L328.7 127.5 L331.9 125.5 L334.9 124.4 L336.6 124.8 L336.4 126.6 L334.6 129.4 L331.9 132.1 L329.7 133.9 L328.8 134.2 L329.8 133.0 L332.3 131.0 L335.6 129.1 L338.4 128.2 L339.8 128.8 L339.4 130.9 L337.4 133.7 L334.7 136.4 L332.6 137.9 L332.0 138.0 L333.2 136.6 L336.0 134.6 L339.2 132.8 L341.9 132.1" stroke="#1a3a94" stroke-width="3.0" fill="none" stroke-linejoin="round"/><path d="M320.9 115.1 L318.3 117.5 L316.5 118.7 L316.3 118.4 L318.0 116.8 L320.9 114.7 L324.2 113.1 L326.5 112.8 L327.2 114.0 L326.0 116.5 L323.7 119.4 L321.1 121.7 L319.5 122.7 L319.6 122.1 L321.5 120.4 L324.6 118.3 L327.8 116.8 L329.9 116.8 L330.3 118.2 L328.9 120.8 L326.4 123.6 L323.9 125.8 L322.5 126.5 L322.9 125.8 L325.1 123.9 L328.3 121.9 L331.4 120.6 L333.3 120.8 L333.4 122.4 L331.8 125.1 L329.2 127.9 L326.8 129.9 L325.6 130.4 L326.3 129.4 L328.7 127.5 L331.9 125.5 L334.9 124.4 L336.6 124.8 L336.4 126.6 L334.6 129.4 L331.9 132.1 L329.7 133.9 L328.8 134.2 L329.8 133.0 L332.3 131.0 L335.6 129.1 L338.4 128.2 L339.8 128.8 L339.4 130.9 L337.4 133.7 L334.7 136.4 L332.6 137.9 L332.0 138.0 L333.2 136.6 L336.0 134.6 L339.2 132.8 L341.9 132.1" stroke="#2a5cdc" stroke-width="2.4" fill="none" stroke-linejoin="round"/><path d="M341.0 113.0 L360.0 127.0" stroke="#64cc3c" stroke-opacity="0.65" stroke-width="10.0" stroke-linecap="round"/><path d="M342.1 113.8 L340.6 116.3 L339.3 117.7 L339.0 117.4 L340.0 115.8 L341.9 113.6 L344.3 111.7 L346.3 111.0 L347.4 111.9 L347.3 114.1 L346.1 116.9 L344.5 119.4 L343.3 120.7 L343.1 120.4 L344.1 118.7 L346.1 116.5 L348.4 114.6 L350.4 114.0 L351.4 114.9 L351.2 117.2 L350.1 120.0 L348.5 122.4 L347.3 123.7 L347.1 123.3 L348.2 121.6 L350.2 119.3 L352.6 117.5 L354.5 116.9 L355.5 117.9 L355.2 120.2 L354.0 123.1 L352.4 125.5 L351.3 126.6 L351.2 126.2 L352.3 124.5 L354.3 122.2 L356.7 120.4 L358.6 119.9 L359.5 121.0 L359.2 123.3 L358.0 126.2 L356.4 128.5 L355.3 129.6 L355.2 129.1 L356.4 127.3 L358.4 125.1 L360.8 123.3 L362.7 122.9" stroke="#3a8428" stroke-width="3.0" fill="none" stroke-linejoin="round"/><path d="M342.1 113.8 L340.6 116.3 L339.3 117.7 L339.0 117.4 L340.0 115.8 L341.9 113.6 L344.3 111.7 L346.3 111.0 L347.4 111.9 L347.3 114.1 L346.1 116.9 L344.5 119.4 L343.3 120.7 L343.1 120.4 L344.1 118.7 L346.1 116.5 L348.4 114.6 L350.4 114.0 L351.4 114.9 L351.2 117.2 L350.1 120.0 L348.5 122.4 L347.3 123.7 L347.1 123.3 L348.2 121.6 L350.2 119.3 L352.6 117.5 L354.5 116.9 L355.5 117.9 L355.2 120.2 L354.0 123.1 L352.4 125.5 L351.3 126.6 L351.2 126.2 L352.3 124.5 L354.3 122.2 L356.7 120.4 L358.6 119.9 L359.5 121.0 L359.2 123.3 L358.0 126.2 L356.4 128.5 L355.3 129.6 L355.2 129.1 L356.4 127.3 L358.4 125.1 L360.8 123.3 L362.7 122.9" stroke="#64cc3c" stroke-width="2.4" fill="none" stroke-linejoin="round"/><path d="M310.0 144.0 L344.0 158.0" stroke="#44b8cc" stroke-opacity="0.65" stroke-width="10.0" stroke-linecap="round"/><path d="M311.3 144.5 L310.4 147.4 L309.5 149.0 L309.2 148.8 L309.7 147.0 L311.1 144.3 L312.9 141.9 L314.7 140.8 L316.0 141.4 L316.3 143.6 L315.9 146.7 L314.9 149.4 L314.1 150.9 L313.8 150.6 L314.4 148.7 L315.8 146.0 L317.7 143.7 L319.5 142.6 L320.6 143.4 L320.9 145.7 L320.4 148.8 L319.5 151.5 L318.7 152.9 L318.4 152.4 L319.1 150.4 L320.6 147.7 L322.5 145.4 L324.2 144.5 L325.3 145.4 L325.5 147.8 L325.0 150.9 L324.0 153.6 L323.2 154.8 L323.1 154.2 L323.8 152.1 L325.3 149.4 L327.2 147.2 L328.9 146.4 L330.0 147.5 L330.2 150.0 L329.6 153.0 L328.6 155.6 L327.8 156.7 L327.7 156.0 L328.5 153.9 L330.1 151.2 L332.0 149.0 L333.7 148.4 L334.7 149.5 L334.8 152.1 L334.1 155.2 L333.1 157.6 L332.4 158.6 L332.4 157.8 L333.2 155.6 L334.8 152.9 L336.7 150.8 L338.4 150.3 L339.3 151.6 L339.4 154.2 L338.7 157.3 L337.7 159.7 L337.0 160.5 L337.0 159.6 L338.0 157.3 L339.6 154.6 L341.5 152.6 L343.1 152.2 L344.0 153.6 L343.9 156.3 L343.2 159.4 L342.3 161.7 L341.6 162.4 L341.7 161.3" stroke="#267a94" stroke-width="3.0" fill="none" stroke-linejoin="round"/><path d="M311.3 144.5 L310.4 147.4 L309.5 149.0 L309.2 148.8 L309.7 147.0 L311.1 144.3 L312.9 141.9 L314.7 140.8 L316.0 141.4 L316.3 143.6 L315.9 146.7 L314.9 149.4 L314.1 150.9 L313.8 150.6 L314.4 148.7 L315.8 146.0 L317.7 143.7 L319.5 142.6 L320.6 143.4 L320.9 145.7 L320.4 148.8 L319.5 151.5 L318.7 152.9 L318.4 152.4 L319.1 150.4 L320.6 147.7 L322.5 145.4 L324.2 144.5 L325.3 145.4 L325.5 147.8 L325.0 150.9 L324.0 153.6 L323.2 154.8 L323.1 154.2 L323.8 152.1 L325.3 149.4 L327.2 147.2 L328.9 146.4 L330.0 147.5 L330.2 150.0 L329.6 153.0 L328.6 155.6 L327.8 156.7 L327.7 156.0 L328.5 153.9 L330.1 151.2 L332.0 149.0 L333.7 148.4 L334.7 149.5 L334.8 152.1 L334.1 155.2 L333.1 157.6 L332.4 158.6 L332.4 157.8 L333.2 155.6 L334.8 152.9 L336.7 150.8 L338.4 150.3 L339.3 151.6 L339.4 154.2 L338.7 157.3 L337.7 159.7 L337.0 160.5 L337.0 159.6 L338.0 157.3 L339.6 154.6 L341.5 152.6 L343.1 152.2 L344.0 153.6 L343.9 156.3 L343.2 159.4 L342.3 161.7 L341.6 162.4 L341.7 161.3" stroke="#44b8cc" stroke-width="2.4" fill="none" stroke-linejoin="round"/><path d="M336.0 131.0 L358.0 147.0" stroke="#42c0a8" stroke-opacity="0.65" stroke-width="10.0" stroke-linecap="round"/><path d="M337.1 131.8 L335.6 134.4 L334.3 135.7 L334.1 135.5 L335.0 133.8 L337.0 131.6 L339.3 129.7 L341.4 129.0 L342.4 129.9 L342.2 132.1 L341.1 135.0 L339.5 137.4 L338.3 138.7 L338.1 138.3 L339.2 136.6 L341.2 134.3 L343.6 132.5 L345.5 131.9 L346.5 132.9 L346.2 135.3 L345.0 138.1 L343.4 140.5 L342.3 141.6 L342.2 141.2 L343.3 139.4 L345.4 137.1 L347.8 135.3 L349.7 134.9 L350.5 136.0 L350.2 138.4 L348.9 141.3 L347.4 143.6 L346.3 144.6 L346.3 144.0 L347.5 142.2 L349.6 139.9 L352.0 138.2 L353.8 137.8 L354.6 139.1 L354.2 141.6 L352.9 144.4 L351.3 146.7 L350.3 147.6 L350.4 146.8 L351.7 144.9 L353.8 142.7 L356.2 141.1 L358.0 140.8 L358.7 142.2 L358.1 144.7 L356.8 147.6 L355.3 149.7 L354.3 150.5 L354.5 149.7 L355.9 147.7" stroke="#28806e" stroke-width="3.0" fill="none" stroke-linejoin="round"/><path d="M337.1 131.8 L335.6 134.4 L334.3 135.7 L334.1 135.5 L335.0 133.8 L337.0 131.6 L339.3 129.7 L341.4 129.0 L342.4 129.9 L342.2 132.1 L341.1 135.0 L339.5 137.4 L338.3 138.7 L338.1 138.3 L339.2 136.6 L341.2 134.3 L343.6 132.5 L345.5 131.9 L346.5 132.9 L346.2 135.3 L345.0 138.1 L343.4 140.5 L342.3 141.6 L342.2 141.2 L343.3 139.4 L345.4 137.1 L347.8 135.3 L349.7 134.9 L350.5 136.0 L350.2 138.4 L348.9 141.3 L347.4 143.6 L346.3 144.6 L346.3 144.0 L347.5 142.2 L349.6 139.9 L352.0 138.2 L353.8 137.8 L354.6 139.1 L354.2 141.6 L352.9 144.4 L351.3 146.7 L350.3 147.6 L350.4 146.8 L351.7 144.9 L353.8 142.7 L356.2 141.1 L358.0 140.8 L358.7 142.2 L358.1 144.7 L356.8 147.6 L355.3 149.7 L354.3 150.5 L354.5 149.7 L355.9 147.7" stroke="#42c0a8" stroke-width="2.4" fill="none" stroke-linejoin="round"/><path d="M352.0 143.0 L358.0 148.0" stroke="#b0d838" stroke-opacity="0.65" stroke-width="7.0" stroke-linecap="round"/><path d="M353.1 143.9 L351.9 145.7 L350.9 146.5 L350.7 146.1 L351.5 144.9 L353.2 143.4 L355.2 142.5 L356.9 142.5 L357.7 143.8 L357.5 145.8 L356.5 147.9 L355.3 149.3 L354.6 149.7 L354.8 148.9 L356.0 147.5 L357.9 146.1" stroke="#6a9028" stroke-width="3.0" fill="none" stroke-linejoin="round"/><path d="M353.1 143.9 L351.9 145.7 L350.9 146.5 L350.7 146.1 L351.5 144.9 L353.2 143.4 L355.2 142.5 L356.9 142.5 L357.7 143.8 L357.5 145.8 L356.5 147.9 L355.3 149.3 L354.6 149.7 L354.8 148.9 L356.0 147.5 L357.9 146.1" stroke="#b0d838" stroke-width="2.4" fill="none" stroke-linejoin="round"/><path d="M314.0 120.0 L322.0 140.0" stroke="#42c0a8" stroke-opacity="0.65" stroke-width="9.0" stroke-linecap="round"/><path d="M314.5 121.3 L312.1 122.5 L310.6 122.9 L310.4 122.6 L311.9 121.8 L314.4 121.0 L317.2 120.8 L319.1 121.3 L319.6 122.5 L318.5 124.3 L316.3 126.0 L314.0 127.2 L312.4 127.6 L312.3 127.2 L313.8 126.4 L316.3 125.6 L319.1 125.4 L321.0 125.9 L321.5 127.2 L320.3 129.0 L318.1 130.6 L315.8 131.8 L314.2 132.2 L314.2 131.8 L315.7 131.0 L318.3 130.3 L321.0 130.0 L322.9 130.6 L323.3 131.9 L322.2 133.6 L320.0 135.3 L317.6 136.5 L316.1 136.8 L316.0 136.5 L317.6 135.7 L320.2 134.9 L322.9 134.7 L324.8 135.3 L325.2 136.6 L324.0 138.3 L321.8 140.0 L319.4 141.1 L317.9 141.5 L317.9 141.1" stroke="#28806e" stroke-width="3.0" fill="none" stroke-linejoin="round"/><path d="M314.5 121.3 L312.1 122.5 L310.6 122.9 L310.4 122.6 L311.9 121.8 L314.4 121.0 L317.2 120.8 L319.1 121.3 L319.6 122.5 L318.5 124.3 L316.3 126.0 L314.0 127.2 L312.4 127.6 L312.3 127.2 L313.8 126.4 L316.3 125.6 L319.1 125.4 L321.0 125.9 L321.5 127.2 L320.3 129.0 L318.1 130.6 L315.8 131.8 L314.2 132.2 L314.2 131.8 L315.7 131.0 L318.3 130.3 L321.0 130.0 L322.9 130.6 L323.3 131.9 L322.2 133.6 L320.0 135.3 L317.6 136.5 L316.1 136.8 L316.0 136.5 L317.6 135.7 L320.2 134.9 L322.9 134.7 L324.8 135.3 L325.2 136.6 L324.0 138.3 L321.8 140.0 L319.4 141.1 L317.9 141.5 L317.9 141.1" stroke="#42c0a8" stroke-width="2.4" fill="none" stroke-linejoin="round"/><circle cx="261" cy="115" r="3.3" stroke="#d85818" stroke-width="2.6" fill="none"/></g>
<path d="M243.6 184.8 C250 176 254 170 258 172.5 C263 176 265 190 269 199 C271 204 274 205.5 277 204 L289 195.5" stroke="#84ea8a" stroke-width="3.8" fill="none" stroke-linecap="round"/>
<g font-size="28.2" text-anchor="end" stroke="#000" stroke-width="0.25">
<text x="116.3" y="490.5">0</text>
<text x="116.3" y="406.6">130</text>
<text x="116.3" y="322.7">260</text>
<text x="116.3" y="238.8">390</text>
<text x="116.3" y="154.9">520</text>
<text x="116.3" y="71.0">650</text>
</g>
<g font-size="28.2" text-anchor="middle" stroke="#000" stroke-width="0.25">
<text x="127.4" y="514.6">400</text>
<text x="286.7" y="514.6">500</text>
<text x="446.0" y="514.6">600</text>
<text x="605.2" y="514.6">700</text>
<text x="764.5" y="514.6">800</text>
</g>
<text x="444.7" y="559.9" font-size="32.5" text-anchor="middle" stroke="#000" stroke-width="0.35">Wavelength / nm</text>
<text transform="translate(44.7 256.3) rotate(-90)" font-size="33" text-anchor="middle" textLength="341" lengthAdjust="spacing" stroke="#000" stroke-width="0.35">Emission Intensity / A.U.</text>
<text x="265.5" y="251.1" font-size="32" text-anchor="middle" stroke="#000" stroke-width="0.3">BCN-BSA</text>
<path d="M525.7 315.7 L530.8 315.7 L537 282.2 L531.9 282.2 Z M536 316.2 L540.1 316.2 L548.9 281.7 L544.2 281.7 Z M552.8 315.7 L558.1 315.7 L564.3 282.2 L559.2 282.2 Z" fill="#000"/>
<text x="562.6" y="327.8" font-size="32" stroke="#000" stroke-width="0.6">o</text>
<text x="593.5" y="316" font-size="48" stroke="#000" stroke-width="0.6">=</text>
<text x="633.7" y="316" font-size="48" stroke="#000" stroke-width="0.5">618.0</text>
</svg>
</body></html>
